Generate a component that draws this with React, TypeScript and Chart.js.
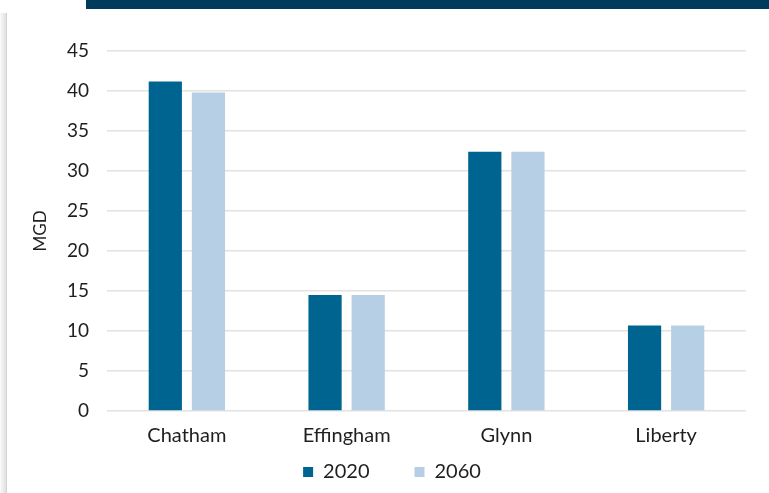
import React, { useEffect, useRef } from "react";
import { Chart, registerables } from "chart.js";

Chart.register(...registerables);

const categories = ["Chatham", "Effingham", "Glynn", "Liberty"];
const series2020 = [41.2, 14.5, 32.4, 10.7];
const series2060 = [39.8, 14.5, 32.4, 10.7];
const seriesLabels = ["2020", "2060"];
const yTitle = "MGD";

const FONT = "Lato, 'Open Sans', sans-serif";

export default function App() {
  const ref = useRef<HTMLCanvasElement | null>(null);

  useEffect(() => {
    if (!ref.current) return;
    const chart = new Chart(ref.current, {
      type: "bar",
      data: {
        labels: categories,
        datasets: [
          {
            label: seriesLabels[0],
            data: series2020,
            backgroundColor: "#006491",
            categoryPercentage: 0.54,
            barPercentage: 0.77,
          },
          {
            label: seriesLabels[1],
            data: series2060,
            backgroundColor: "#b7cfe5",
            categoryPercentage: 0.54,
            barPercentage: 0.77,
          },
        ],
      },
      options: {
        responsive: false,
        animation: false,
        layout: { padding: { left: 38, right: 23, top: 51, bottom: 1 } },
        plugins: {
          tooltip: { enabled: false },
          legend: {
            position: "bottom",
            labels: {
              boxWidth: 10,
              boxHeight: 10,
              padding: 45,
              color: "#1f1f1f",
              font: { family: FONT, size: 20 },
            },
          },
        },
        scales: {
          x: {
            grid: { display: false, drawTicks: false },
            border: { display: false },
            ticks: {
              color: "#1f1f1f",
              mirror: true,
              padding: -37,
              font: { family: FONT, size: 20 },
            },
            afterFit: (s: any) => {
              s.height = 6;
            },
          },
          y: {
            min: 0,
            max: 45,
            ticks: {
              stepSize: 5,
              color: "#1f1f1f",
              padding: 18,
              font: { family: FONT, size: 19 },
            },
            grid: { color: "#e2e2e2", lineWidth: 1.5, drawTicks: false },
            border: { display: false },
            title: {
              display: true,
              text: yTitle,
              color: "#1f1f1f",
              padding: { top: -8, bottom: 0 },
              font: { family: FONT, size: 17 },
            },
            afterFit: (s: any) => {
              s.width = 69;
            },
          },
        },
      },
    });
    return () => chart.destroy();
  }, []);

  return (
    <div style={{ position: "fixed", left: 0, top: 0, width: 769, height: 493, background: "#fff", overflow: "hidden" }}>
      <canvas ref={ref} width={769} height={493} style={{ position: "absolute", left: 0, top: 0, width: 769, height: 493 }} />
      <div style={{ position: "absolute", left: 86, top: 0, width: 683, height: 9, background: "#003a5c" }} />
      <div
        style={{
          position: "absolute",
          left: 0,
          top: 13,
          width: 6,
          bottom: 0,
          background: "linear-gradient(to right, rgba(0,0,0,0.02), rgba(0,0,0,0.12))",
          borderRight: "1px solid #d4d4d4",
        }}
      />
    </div>
  );
}
